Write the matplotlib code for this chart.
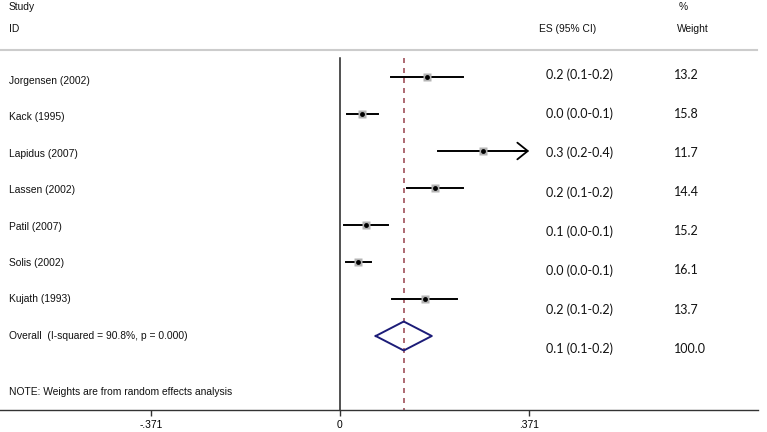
import numpy as np
import matplotlib.pyplot as plt

# datos del forest plot
studies = ['Jorgensen (2002)', 'Kack (1995)', 'Lapidus (2007)', 'Lassen (2002)',
           'Patil (2007)', 'Solis (2002)', 'Kujath (1993)']
es = [0.170, 0.044, 0.280, 0.186, 0.051, 0.035, 0.167]
ci_lo = [0.100, 0.013, 0.192, 0.131, 0.008, 0.011, 0.102]
ci_hi = [0.241, 0.074, 0.400, 0.241, 0.094, 0.060, 0.229]
es_text = ['0.2 (0.1-0.2)', '0.0 (0.0-0.1)', '0.3 (0.2-0.4)', '0.2 (0.1-0.2)',
           '0.1 (0.0-0.1)', '0.0 (0.0-0.1)', '0.2 (0.1-0.2)']
weights = ['13.2', '15.8', '11.7', '14.4', '15.2', '16.1', '13.7']
overall_es, overall_lo, overall_hi = 0.125, 0.070, 0.180
overall_text = '0.1 (0.1-0.2)'
overall_weight = '100.0'
overall_label = 'Overall  (I-squared = 90.8%, p = 0.000)'
xticks = [-0.371, 0, 0.371]
xticklabels = ['-.371', '0', '.371']
xmax = 0.371

W, H = 767, 432
fig = plt.figure(figsize=(W / 100, H / 100), dpi=100)
ax = fig.add_axes([0, 22 / H, 758 / W, 410 / H])

# y en pixeles (de arriba hacia abajo)
ax.set_ylim(410, 0)
ax.set_xlim(-340 / 510, 418 / 510)

def px(x):
    return (x - 340) / 510

n = len(studies)
rows = 77 + 37 * np.arange(n + 1)
label_rows = 81 + 36.4 * np.arange(n + 1)
es_rows = 75 + 39.1 * np.arange(n + 1)

lab_font = dict(family='Liberation Sans', fontsize=7.4, color='#111111')
num_font = dict(family='Lato', fontsize=9, color='#111111')

# cabecera
ax.text(px(9), 7, 'Study', va='center', **lab_font)
ax.text(px(9), 29, 'ID', va='center', **lab_font)
ax.text(px(539), 29, 'ES (95% CI)', va='center', **lab_font)
ax.text(px(679), 7, '%', va='center', **lab_font)
ax.text(px(677), 29, 'Weight', va='center', **lab_font)
ax.plot([px(0), px(757)], [50, 50], color='#cccccc', lw=1.5, clip_on=False)

# lineas de referencia
ax.plot([0, 0], [58, 410], color='#222222', lw=1.1)
ax.plot([overall_es, overall_es], [58, 410], color='#a0505a', lw=1.2,
        ls=(0, (3, 3)))

for i in range(n):
    y = rows[i]
    if ci_hi[i] > xmax:
        ax.plot([ci_lo[i], xmax - 0.004], [y, y], color='k', lw=1.4)
        ax.annotate('', xy=(xmax, y), xytext=(xmax - 0.03, y),
                    arrowprops=dict(arrowstyle='->,head_length=0.75,head_width=0.6',
                                    color='k', lw=1.3, shrinkA=0, shrinkB=0))
    else:
        ax.plot([ci_lo[i], ci_hi[i]], [y, y], color='k', lw=1.4)
    ax.plot(es[i], y, 's', ms=5.5, color='#b4b4b4', mec='none')
    ax.plot(es[i], y, 'o', ms=3.5, color='k', mec='none')
    ax.text(px(9), label_rows[i], studies[i], va='center', **lab_font)
    ax.text(px(546), es_rows[i], es_text[i], va='center', **num_font)
    ax.text(px(674), es_rows[i], weights[i], va='center', **num_font)

# diamante global
yo = rows[n]
ax.plot([overall_lo, overall_es, overall_hi, overall_es, overall_lo],
        [yo, yo - 14.5, yo, yo + 14.5, yo], color='#1c1c78', lw=1.4)
ax.text(px(9), label_rows[n], overall_label, va='center', **lab_font)
ax.text(px(546), es_rows[n], overall_text, va='center', **num_font)
ax.text(px(674), es_rows[n], overall_weight, va='center', **num_font)

ax.text(px(9), 392, 'NOTE: Weights are from random effects analysis',
        va='center', **lab_font)

# ejes
for s in ('top', 'right', 'left'):
    ax.spines[s].set_visible(False)
ax.spines['bottom'].set_color('#333333')
ax.spines['bottom'].set_linewidth(1.0)
ax.set_yticks([])
ax.set_xticks(xticks)
ax.set_xticklabels(xticklabels, family='Liberation Sans', fontsize=7.4)
ax.tick_params(axis='x', length=4, width=1, color='#333333', pad=3)

fig.savefig('out.png', dpi=100)
